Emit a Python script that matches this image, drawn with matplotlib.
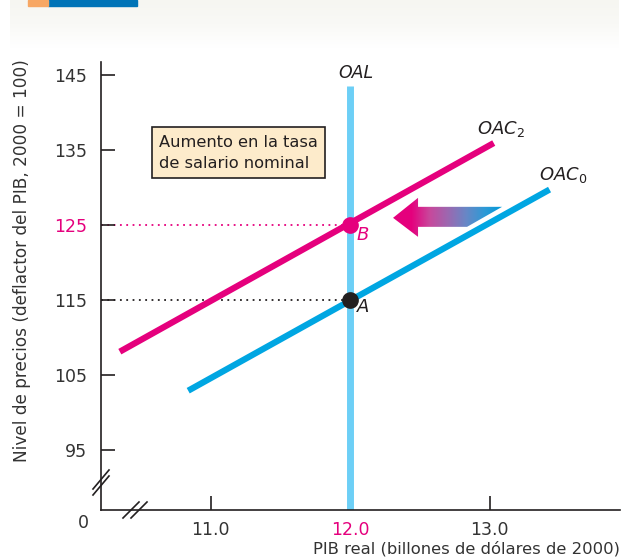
import matplotlib
matplotlib.use("Agg")
import matplotlib.pyplot as plt
import numpy as np
from matplotlib.patches import Polygon, Rectangle
from matplotlib.colors import LinearSegmentedColormap

# data (PIB real in billones, price level)
oac2_x = [10.35, 13.03]
oac2_y = [108.1, 135.9]
oac0_x = [10.84, 13.43]
oac0_y = [102.9, 129.7]
oal_x = 12.0
point_a = (12.0, 115)
point_b = (12.0, 125)
yticks = [95, 105, 115, 125, 135, 145]
xticks = [11.0, 12.0, 13.0]

MAG = "#E5007D"
CYAN = "#00A6E2"
LIGHT = "#6DCFF6"
INK = "#231F20"

W, H = 629, 559
fig = plt.figure(figsize=(W / 100, H / 100), dpi=100)
plt.rcParams["font.family"] = ["DejaVu Sans"]


def fx(x, y):
    return x / W, 1 - y / H


# header band (soft fade) + tab
hx0, hy0 = fx(10, 48)
hax = fig.add_axes([hx0, hy0, 609 / W, 48 / H], zorder=0)
hax.imshow(np.linspace(0, 1, 64).reshape(-1, 1), aspect="auto",
           cmap=LinearSegmentedColormap.from_list("h", ["#F6F6F1", "#F9F9F6", "#FFFFFF"]),
           extent=[0, 1, 0, 1])
hax.axis("off")
fig.patches.append(Rectangle(fx(48, 6), 89 / W, 6 / H, transform=fig.transFigure,
                             color="#0074B7", zorder=1))
fig.patches.append(Rectangle(fx(28, 6), 20 / W, 6 / H, transform=fig.transFigure,
                             color="#F7A763", zorder=1))

x0, y0 = fx(101, 510)
x1, y1 = fx(620, 62)
ax = fig.add_axes([x0, y0, x1 - x0, y1 - y0], zorder=2)
ax.set_xlim(10.215, 13.935)
ax.set_ylim(87, 146.7)
ax.patch.set_alpha(0)
for s in ("top", "right"):
    ax.spines[s].set_visible(False)
for s in ("left", "bottom"):
    ax.spines[s].set_color(INK)
    ax.spines[s].set_linewidth(1.2)

ax.set_yticks(yticks)
ax.set_yticklabels([str(v) for v in yticks], fontsize=12.5, color="#333333")
ax.get_yticklabels()[yticks.index(125)].set_color(MAG)
ax.set_xticks(xticks)
ax.set_xticklabels(["11.0", "12.0", "13.0"], fontsize=12.5, color="#333333")
ax.get_xticklabels()[1].set_color(MAG)
ax.tick_params(axis="both", direction="in", length=10, width=1.2, color=INK)
ax.tick_params(axis="y", pad=10)
ax.tick_params(axis="x", pad=8)

# curves
ax.plot([oal_x, oal_x], [87, 143.5], color=LIGHT, lw=5, solid_capstyle="butt", zorder=2)
ax.plot(oac0_x, oac0_y, color=CYAN, lw=4.5, solid_capstyle="butt", zorder=3)
ax.plot(oac2_x, oac2_y, color=MAG, lw=4.5, solid_capstyle="butt", zorder=3)

# dotted guides
ax.plot([10.215, point_b[0]], [point_b[1]] * 2, color=MAG, lw=1.3, ls=(0, (1, 2.5)), zorder=1)
ax.plot([10.215, point_a[0]], [point_a[1]] * 2, color=INK, lw=1.3, ls=(0, (1, 2.5)), zorder=1)

ax.plot(*point_b, "o", color=MAG, ms=11, zorder=5)
ax.plot(*point_a, "o", color=INK, ms=11, zorder=5)

ax.text(12.05, 123.6, "B", color=MAG, fontsize=13, style="italic", ha="left", va="center")
ax.text(12.05, 114.0, "A", color=INK, fontsize=13, style="italic", ha="left", va="center")
ax.text(12.04, 145.2, "OAL", color=INK, fontsize=12.5, style="italic", ha="center", va="center")
ax.text(13.08, 137.8, "$\\mathit{OAC}_2$", color=INK, fontsize=13, ha="center", va="center")
ax.text(13.53, 131.6, "$\\mathit{OAC}_0$", color=INK, fontsize=13, ha="center", va="center")

ax.text(10.63, 134.6, "Aumento en la tasa\nde salario nominal", fontsize=11.7, color=INK,
        ha="left", va="center", linespacing=1.5,
        bbox=dict(boxstyle="square,pad=0.45", fc="#FDEBCB", ec=INK, lw=1.2))


def to_data(px, py):
    return ((px - 350) / 139.5 + 12.0, 125 - (py - 225) / 7.5)


# gradient arrow
arrow_px = [(393, 218), (418, 198), (418, 207), (502, 207), (467, 227),
            (418, 227), (418, 237)]
verts = [to_data(*p) for p in arrow_px]
poly = Polygon(verts, closed=True, fc="none", ec="none", transform=ax.transData)
ax.add_patch(poly)
cmap = LinearSegmentedColormap.from_list(
    "g", [MAG, MAG, "#C8489C", "#9C68B0", "#6787C6", "#2E9AD6", "#0099D8"])
grad = np.linspace(0, 1, 256).reshape(1, -1)
xs = [v[0] for v in verts]
ys = [v[1] for v in verts]
im = ax.imshow(grad, cmap=cmap, aspect="auto", zorder=4,
               extent=[min(xs), max(xs), min(ys), max(ys)])
im.set_clip_path(poly)
ax.set_xlim(10.215, 13.935)
ax.set_ylim(87, 146.7)

# axis break marks (figure pixel coords)
for dy in (0, 6):
    fig.lines.append(plt.Line2D([93 / W, 109 / W], [1 - (489 + dy) / H, 1 - (470 + dy) / H],
                                transform=fig.transFigure, color=INK, lw=1.2))
for dx in (0, 8):
    fig.lines.append(plt.Line2D([(123 + dx) / W, (139 + dx) / W], [1 - 518 / H, 1 - 502 / H],
                                transform=fig.transFigure, color=INK, lw=1.2))
fig.text(83 / W, 1 - 523 / H, "0", fontsize=12.5, color="#333333", ha="center", va="center")

fig.text(620 / W, 1 - 549 / H, "PIB real (billones de dólares de 2000)", fontsize=11.8,
         color="#333333", ha="right", va="center")
fig.text(22 / W, 1 - 261 / H, "Nivel de precios (deflactor del PIB, 2000 = 100)", fontsize=12.2,
         color="#333333", ha="center", va="center", rotation=90)

fig.savefig("out.png", dpi=100)
